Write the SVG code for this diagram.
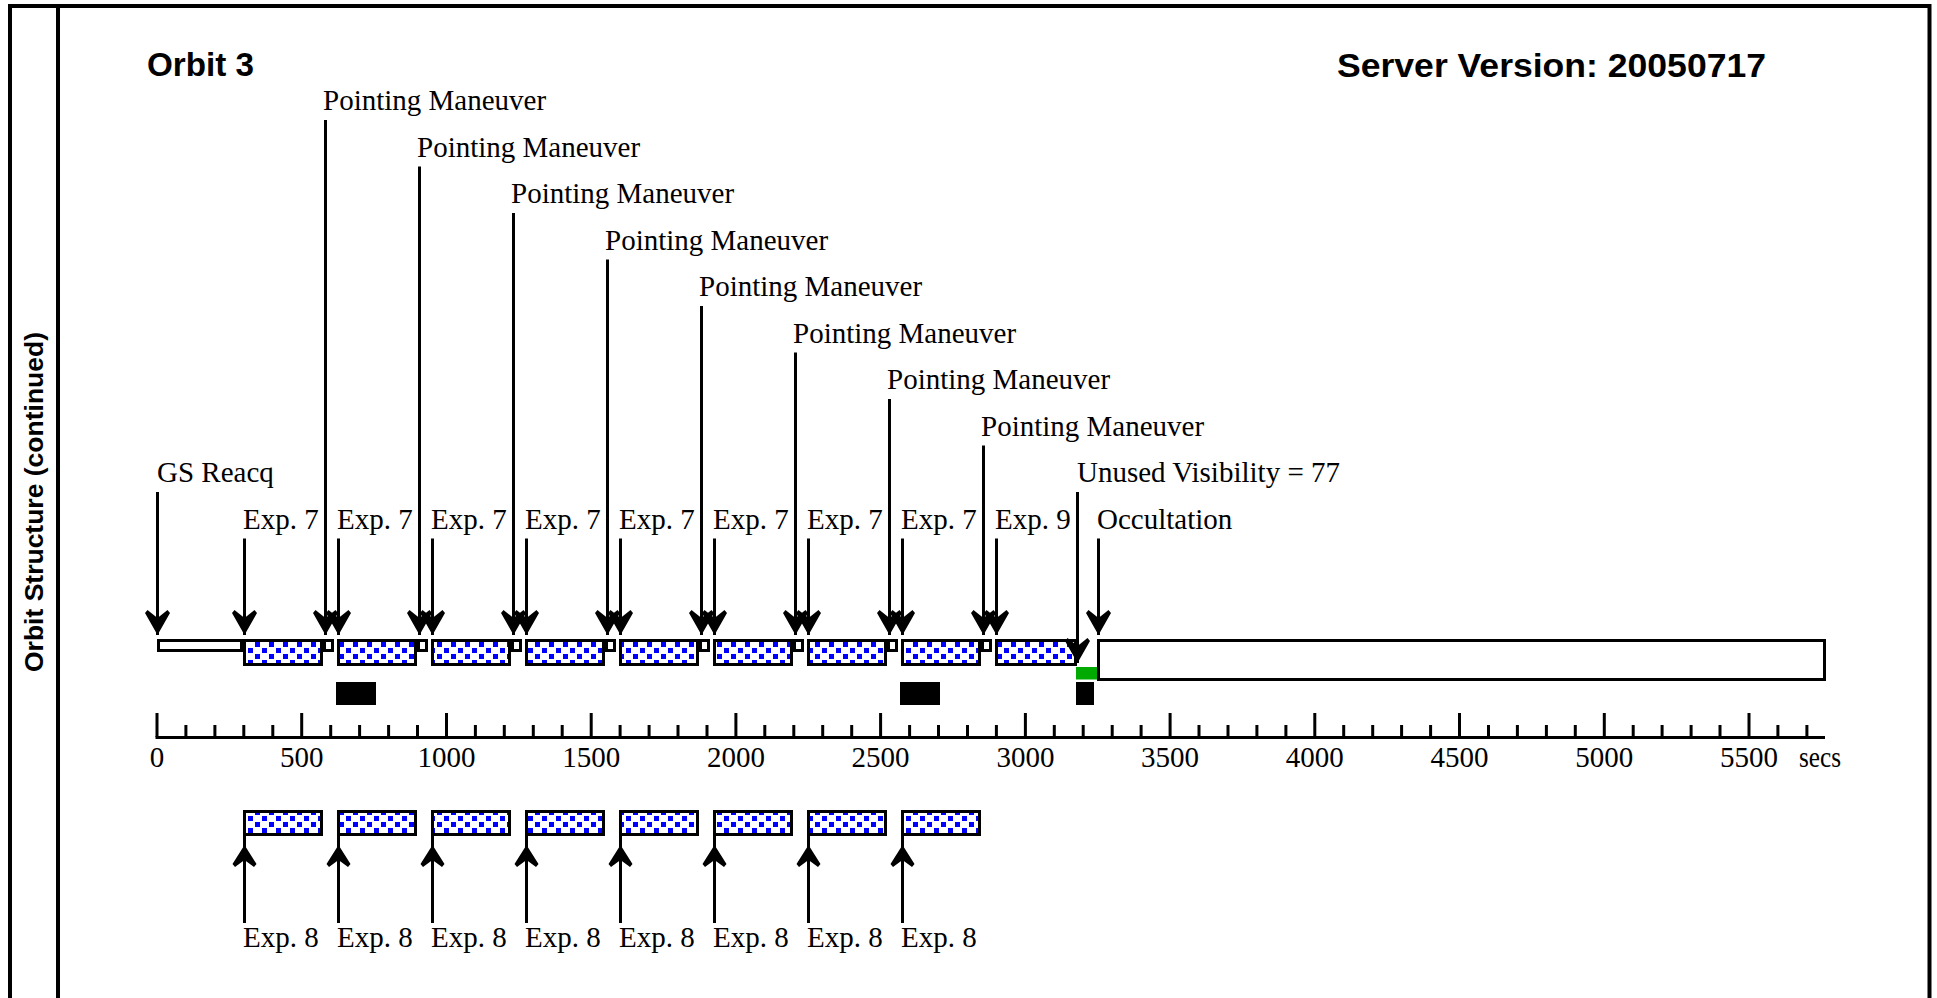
<svg xmlns="http://www.w3.org/2000/svg" xmlns:xlink="http://www.w3.org/1999/xlink" width="1937" height="998" viewBox="0 0 1937 998">
<style>
.lbl{font-family:"Liberation Serif","Times New Roman",serif;font-size:29px;fill:#000}
.tk{font-family:"Liberation Serif","Times New Roman",serif;font-size:29px;fill:#000;text-anchor:middle}
.hd{font-family:"Liberation Sans",Arial,sans-serif;font-weight:bold;font-size:34px;fill:#000}
.box{fill:#fff;stroke:#000;stroke-width:3}
.exp{fill:url(#dots);stroke:#000;stroke-width:3}
.ln{stroke:#000;stroke-width:3;fill:none}
.blk{fill:#000}
</style>
<defs>
<pattern id="dots" patternUnits="userSpaceOnUse" x="3" y="642" width="14" height="12">
<rect width="14" height="12" fill="#fff"/>
<rect x="0" y="0" width="5" height="5" fill="#0000ff"/>
<rect x="7" y="6" width="5" height="5" fill="#0000ff"/>
</pattern>
<path id="ahd" d="M0,0 L-12.5,-22 L-10,-25 L0,-17 L10,-25 L12.5,-22 Z" fill="#000"/>
<path id="ahu" d="M0,0 L-12,19 L-9.5,22 L0,15 L9.5,22 L12,19 Z" fill="#000"/>
</defs>
<rect x="0" y="0" width="1937" height="998" fill="#fff"/>
<g id="frame">
<path class="ln" style="stroke-width:4" d="M10,1000 V6 H1929.5 V1000"/>
<path class="ln" style="stroke-width:4" d="M58,6 V1000"/>
<text class="hd" style="font-size:26px" transform="translate(43,502) rotate(-90)" text-anchor="middle" textLength="340" lengthAdjust="spacingAndGlyphs">Orbit Structure (continued)</text>
</g>
<g id="header">
<text class="hd" x="147" y="76" textLength="107" lengthAdjust="spacingAndGlyphs">Orbit 3</text>
<text class="hd" x="1337" y="77" textLength="429" lengthAdjust="spacingAndGlyphs">Server Version: 20050717</text>
</g>
<g id="axis">
<path class="ln" d="M155.5,737.5 H1825"/>
<path class="ln" d="M157,713V737 M301.7,713V737 M446.5,713V737 M591.2,713V737 M735.9,713V737 M880.6,713V737 M1025.4,713V737 M1170.1,713V737 M1314.8,713V737 M1459.5,713V737 M1604.3,713V737 M1749,713V737"/>
<path class="ln" d="M185.9,725V737 M214.9,725V737 M243.8,725V737 M272.8,725V737 M330.7,725V737 M359.6,725V737 M388.6,725V737 M417.5,725V737 M475.4,725V737 M504.3,725V737 M533.3,725V737 M562.2,725V737 M620.1,725V737 M649.1,725V737 M678,725V737 M707,725V737 M764.8,725V737 M793.8,725V737 M822.7,725V737 M851.7,725V737 M909.6,725V737 M938.5,725V737 M967.5,725V737 M996.4,725V737 M1054.3,725V737 M1083.2,725V737 M1112.2,725V737 M1141.1,725V737 M1199,725V737 M1228,725V737 M1256.9,725V737 M1285.9,725V737 M1343.7,725V737 M1372.7,725V737 M1401.6,725V737 M1430.6,725V737 M1488.5,725V737 M1517.4,725V737 M1546.4,725V737 M1575.3,725V737 M1633.2,725V737 M1662.1,725V737 M1691.1,725V737 M1720,725V737 M1777.9,725V737 M1806.9,725V737"/>
<text class="tk" x="157" y="767">0</text>
<text class="tk" x="301.7" y="767">500</text>
<text class="tk" x="446.5" y="767">1000</text>
<text class="tk" x="591.2" y="767">1500</text>
<text class="tk" x="735.9" y="767">2000</text>
<text class="tk" x="880.6" y="767">2500</text>
<text class="tk" x="1025.4" y="767">3000</text>
<text class="tk" x="1170.1" y="767">3500</text>
<text class="tk" x="1314.8" y="767">4000</text>
<text class="tk" x="1459.5" y="767">4500</text>
<text class="tk" x="1604.3" y="767">5000</text>
<text class="tk" x="1749" y="767">5500</text>
<text class="lbl" x="1799" y="767" textLength="42" lengthAdjust="spacingAndGlyphs">secs</text>
</g>
<g id="gs-reacq"><rect class="box" x="158.5" y="640.5" width="83" height="10"/><text class="lbl" x="157" y="482">GS Reacq</text></g>
<g id="exp7-1"><rect class="exp" x="244.5" y="640.5" width="77" height="24"/><text class="lbl" x="243" y="528.5">Exp. 7</text></g>
<g id="pm-1"><rect class="box" x="324.5" y="640.5" width="8" height="10"/><text class="lbl" x="323" y="110">Pointing Maneuver</text></g>
<g id="exp7-2"><rect class="exp" x="338.5" y="640.5" width="77" height="24"/><text class="lbl" x="337" y="528.5">Exp. 7</text></g>
<g id="pm-2"><rect class="box" x="418.5" y="640.5" width="8" height="10"/><text class="lbl" x="417" y="156.5">Pointing Maneuver</text></g>
<g id="exp7-3"><rect class="exp" x="432.5" y="640.5" width="77" height="24"/><text class="lbl" x="431" y="528.5">Exp. 7</text></g>
<g id="pm-3"><rect class="box" x="512.5" y="640.5" width="8" height="10"/><text class="lbl" x="511" y="203">Pointing Maneuver</text></g>
<g id="exp7-4"><rect class="exp" x="526.5" y="640.5" width="77" height="24"/><text class="lbl" x="525" y="528.5">Exp. 7</text></g>
<g id="pm-4"><rect class="box" x="606.5" y="640.5" width="8" height="10"/><text class="lbl" x="605" y="249.5">Pointing Maneuver</text></g>
<g id="exp7-5"><rect class="exp" x="620.5" y="640.5" width="77" height="24"/><text class="lbl" x="619" y="528.5">Exp. 7</text></g>
<g id="pm-5"><rect class="box" x="700.5" y="640.5" width="8" height="10"/><text class="lbl" x="699" y="296">Pointing Maneuver</text></g>
<g id="exp7-6"><rect class="exp" x="714.5" y="640.5" width="77" height="24"/><text class="lbl" x="713" y="528.5">Exp. 7</text></g>
<g id="pm-6"><rect class="box" x="794.5" y="640.5" width="8" height="10"/><text class="lbl" x="793" y="342.5">Pointing Maneuver</text></g>
<g id="exp7-7"><rect class="exp" x="808.5" y="640.5" width="77" height="24"/><text class="lbl" x="807" y="528.5">Exp. 7</text></g>
<g id="pm-7"><rect class="box" x="888.5" y="640.5" width="8" height="10"/><text class="lbl" x="887" y="389">Pointing Maneuver</text></g>
<g id="exp7-8"><rect class="exp" x="902.5" y="640.5" width="77" height="24"/><text class="lbl" x="901" y="528.5">Exp. 7</text></g>
<g id="pm-8"><rect class="box" x="982.5" y="640.5" width="8" height="10"/><text class="lbl" x="981" y="435.5">Pointing Maneuver</text></g>
<g id="exp9"><rect class="exp" x="996.5" y="640.5" width="79" height="24"/><text class="lbl" x="995" y="528.5">Exp. 9</text></g>
<g id="unused-visibility"><rect x="1076" y="667" width="22" height="12.5" fill="#00aa00"/><text class="lbl" x="1077" y="482">Unused Visibility = 77</text></g>
<g id="occultation"><rect class="box" x="1098.5" y="640.5" width="726" height="39"/><text class="lbl" x="1097" y="528.5">Occultation</text></g>
<g id="markers"><rect class="blk" x="336" y="682" width="40" height="23"/><rect class="blk" x="900" y="682" width="40" height="23"/><rect class="blk" x="1076" y="682" width="18" height="23"/></g>
<g id="exp8-1"><rect class="exp" x="244.5" y="811.5" width="77" height="23"/><text class="lbl" x="243" y="947">Exp. 8</text></g>
<g id="exp8-2"><rect class="exp" x="338.5" y="811.5" width="77" height="23"/><text class="lbl" x="337" y="947">Exp. 8</text></g>
<g id="exp8-3"><rect class="exp" x="432.5" y="811.5" width="77" height="23"/><text class="lbl" x="431" y="947">Exp. 8</text></g>
<g id="exp8-4"><rect class="exp" x="526.5" y="811.5" width="77" height="23"/><text class="lbl" x="525" y="947">Exp. 8</text></g>
<g id="exp8-5"><rect class="exp" x="620.5" y="811.5" width="77" height="23"/><text class="lbl" x="619" y="947">Exp. 8</text></g>
<g id="exp8-6"><rect class="exp" x="714.5" y="811.5" width="77" height="23"/><text class="lbl" x="713" y="947">Exp. 8</text></g>
<g id="exp8-7"><rect class="exp" x="808.5" y="811.5" width="77" height="23"/><text class="lbl" x="807" y="947">Exp. 8</text></g>
<g id="exp8-8"><rect class="exp" x="902.5" y="811.5" width="77" height="23"/><text class="lbl" x="901" y="947">Exp. 8</text></g>
<g id="connectors">
<path class="ln" d="M157.5,492V635 M325.5,120V635 M419.5,166.5V635 M513.5,213V635 M607.5,259.5V635 M701.5,306V635 M795.5,352.5V635 M889.5,399V635 M983.5,445.5V635 M244.5,538.5V635 M338.5,538.5V635 M432.5,538.5V635 M526.5,538.5V635 M620.5,538.5V635 M714.5,538.5V635 M808.5,538.5V635 M902.5,538.5V635 M996.5,538.5V635 M1077.5,492V663 M1098.5,538.5V635"/>
<use xlink:href="#ahd" x="157.5" y="635"/>
<use xlink:href="#ahd" x="325.5" y="635"/>
<use xlink:href="#ahd" x="419.5" y="635"/>
<use xlink:href="#ahd" x="513.5" y="635"/>
<use xlink:href="#ahd" x="607.5" y="635"/>
<use xlink:href="#ahd" x="701.5" y="635"/>
<use xlink:href="#ahd" x="795.5" y="635"/>
<use xlink:href="#ahd" x="889.5" y="635"/>
<use xlink:href="#ahd" x="983.5" y="635"/>
<use xlink:href="#ahd" x="244.5" y="635"/>
<use xlink:href="#ahd" x="338.5" y="635"/>
<use xlink:href="#ahd" x="432.5" y="635"/>
<use xlink:href="#ahd" x="526.5" y="635"/>
<use xlink:href="#ahd" x="620.5" y="635"/>
<use xlink:href="#ahd" x="714.5" y="635"/>
<use xlink:href="#ahd" x="808.5" y="635"/>
<use xlink:href="#ahd" x="902.5" y="635"/>
<use xlink:href="#ahd" x="996.5" y="635"/>
<use xlink:href="#ahd" x="1077.5" y="663"/>
<use xlink:href="#ahd" x="1098.5" y="635"/>
<path class="ln" d="M244.5,836V923 M338.5,836V923 M432.5,836V923 M526.5,836V923 M620.5,836V923 M714.5,836V923 M808.5,836V923 M902.5,836V923"/>
<use xlink:href="#ahu" x="244.5" y="845"/>
<use xlink:href="#ahu" x="338.5" y="845"/>
<use xlink:href="#ahu" x="432.5" y="845"/>
<use xlink:href="#ahu" x="526.5" y="845"/>
<use xlink:href="#ahu" x="620.5" y="845"/>
<use xlink:href="#ahu" x="714.5" y="845"/>
<use xlink:href="#ahu" x="808.5" y="845"/>
<use xlink:href="#ahu" x="902.5" y="845"/>
</g>
</svg>
